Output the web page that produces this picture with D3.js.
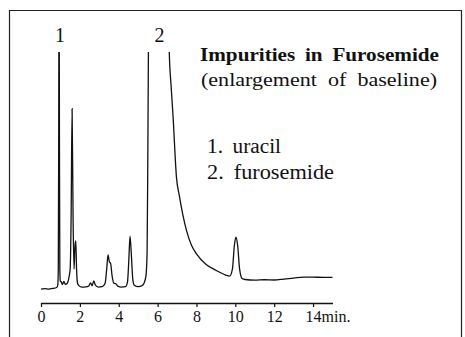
<!DOCTYPE html>
<html>
<head>
<meta charset="utf-8">
<script src="https://cdn.jsdelivr.net/npm/d3@7"></script>
<style>
  body { margin: 0; background: #fff; }
</style>
</head>
<body>
<div id="chromatogram"></div>
<script>
// retention time (min) and detector response (baseline enlarged, arbitrary units)
const retentionTimes = [
  0.00, 0.20, 0.40, 0.60, 0.80, 0.86, 0.89, 0.91, 0.93, 0.95, 0.97, 0.99,
  1.05, 1.10, 1.18, 1.25, 1.35, 1.45, 1.50, 1.55, 1.60, 1.65, 1.70, 1.75,
  1.79, 1.83, 1.88, 1.95, 2.10, 2.30, 2.45, 2.55, 2.63, 2.72, 2.80, 2.95,
  3.15, 3.30, 3.38, 3.45, 3.52, 3.58, 3.66, 3.75, 3.85, 3.95, 4.15, 4.35,
  4.45, 4.52, 4.58, 4.65, 4.72, 4.80, 5.00, 5.20, 5.30, 5.40, 5.46, 5.50,
  5.55, 6.00, 6.55, 6.60, 6.70, 6.80, 6.97, 7.12, 7.30, 7.50, 7.75, 8.00,
  8.50, 9.00, 9.50, 9.70, 9.85, 9.95, 10.03, 10.12, 10.22, 10.35, 10.50, 11.00,
  11.50, 12.00, 12.50, 13.00, 13.50, 14.00, 14.50, 15.00
];
const responses = [
  -0.5, -0.3, -0.5, -0.2, 0.2, 1, 8, 60, 140, 60, 8, 3,
  2.5, 1.5, 2.8, 1.5, 2, 5, 8, 30, 76, 30, 8, 18,
  20, 8, 2, 1, 0.4, 0.5, 0.8, 2.2, 1.0, 3, 1.2, 0.4,
  0.6, 2, 8, 14, 11, 10.5, 5, 2, 1.8, 0.8, 0.4, 0.6,
  2.5, 12, 22, 14, 4, 1.2, 0.6, 1.0, 2, 5, 15, 60,
  130, 300, 118, 100, 85, 72, 47, 39, 31, 24, 18, 14.5,
  10, 7.5, 5.5, 5, 8, 18, 21.5, 18, 8, 4, 3.6, 3.3,
  3.5, 3.4, 3.8, 4.2, 4.6, 4.6, 4.5, 4.5
];

const peakNumbers = ["1", "2"];
const peakTimes = [0.93, 5.95];
const compoundNames = ["uracil", "furosemide"];
const tickValues = [0, 2, 4, 6, 8, 10, 12, 14];

const chromatogram = retentionTimes.map(function(t, i) {
  return { time: t, response: responses[i] };
});

const serif = "'Liberation Serif', 'Times New Roman', 'DejaVu Serif', serif";

const svg = d3.select("#chromatogram")
  .append("svg")
    .attr("width", 465)
    .attr("height", 337)
    .attr("font-family", serif);

// frame round the figure (open at the bottom)
svg.append("path")
  .attr("d", "M9.5,337 V10.5 H461.5 V337")
  .attr("fill", "none")
  .attr("stroke", "#222")
  .attr("stroke-width", 1.2);

const xScale = d3.scaleLinear()
  .domain([0, 15])
  .range([41, 332.5]);

const yScale = d3.scaleLinear()
  .domain([0, 100])
  .range([288, 52]);

svg.append("clipPath")
    .attr("id", "plotClip")
  .append("rect")
    .attr("x", 30)
    .attr("y", yScale(100))
    .attr("width", 320)
    .attr("height", 260);

const traceLine = d3.line()
  .x(function(d) { return xScale(d.time); })
  .y(function(d) { return yScale(d.response); })
  .curve(d3.curveMonotoneX);

svg.append("path")
  .datum(chromatogram)
  .attr("clip-path", "url(#plotClip)")
  .attr("d", traceLine)
  .attr("fill", "none")
  .attr("stroke", "#111")
  .attr("stroke-width", 1.3);

// time axis
const axis = svg.append("g")
  .attr("transform", "translate(0, 303)")
  .call(d3.axisBottom(xScale)
    .tickValues(tickValues)
    .tickSize(4)
    .tickSizeOuter(0)
    .tickPadding(4)
    .tickFormat(function(d) { return d === 14 ? "14min." : d; }));

axis.attr("font-family", serif);
axis.select(".domain")
  .attr("stroke", "#111")
  .attr("stroke-width", 1.3);
axis.selectAll(".tick line")
  .attr("stroke", "#111")
  .attr("stroke-width", 1.2);
axis.selectAll(".tick text")
  .attr("font-size", 16)
  .attr("fill", "#111");
axis.selectAll(".tick")
  .filter(function(d) { return d === 14; })
  .select("text")
    .attr("text-anchor", "start")
    .attr("x", -8);

// peak numbers above the off-scale peaks
svg.selectAll(".peak-label")
  .data(peakNumbers)
  .enter()
  .append("text")
    .attr("class", "peak-label")
    .attr("x", function(d, i) { return i === 0 ? xScale(peakTimes[i]) + 1 : 159.5; })
    .attr("y", 42)
    .attr("text-anchor", "middle")
    .attr("font-size", 20)
    .attr("fill", "#111")
    .text(function(d) { return d; });

// title block (the scan is a little wide, so the glyphs are stretched to fit)
svg.append("text")
  .attr("x", 200)
  .attr("y", 61)
  .attr("font-size", 19)
  .attr("font-weight", "bold")
  .attr("word-spacing", 4)
  .attr("textLength", 239)
  .attr("lengthAdjust", "spacingAndGlyphs")
  .attr("fill", "#111")
  .text("Impurities in Furosemide");

svg.append("text")
  .attr("x", 201)
  .attr("y", 86)
  .attr("font-size", 19.5)
  .attr("word-spacing", 5)
  .attr("textLength", 236)
  .attr("lengthAdjust", "spacingAndGlyphs")
  .attr("fill", "#111")
  .text("(enlargement of baseline)");

// legend
const legendWidths = [74, 127];
svg.selectAll(".legend")
  .data(compoundNames)
  .enter()
  .append("text")
    .attr("class", "legend")
    .attr("x", 207)
    .attr("y", function(d, i) { return 153 + i * 26; })
    .attr("font-size", 20)
    .attr("word-spacing", 4)
    .attr("textLength", function(d, i) { return legendWidths[i]; })
    .attr("lengthAdjust", "spacingAndGlyphs")
    .attr("fill", "#111")
    .text(function(d, i) { return peakNumbers[i] + ". " + d; });
</script>
</body>
</html>
